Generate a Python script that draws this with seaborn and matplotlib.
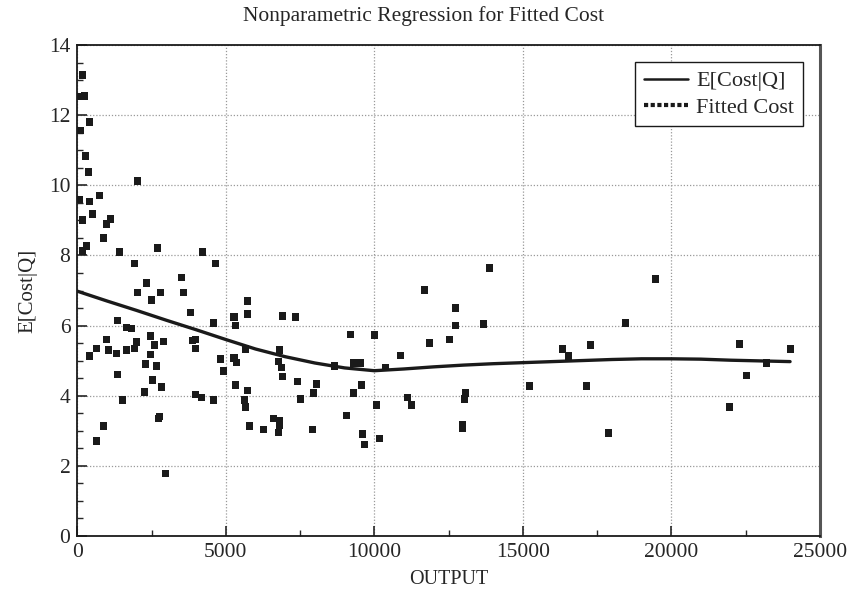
import numpy as np
import pandas as pd
import seaborn as sns
import matplotlib.pyplot as plt
from matplotlib.lines import Line2D
from matplotlib.ticker import MultipleLocator

# fitted cost scatter
output_q = [170, 90, 236, 404, 101, 269, 370, 2020, 80, 404, 741, 505, 168, 976, 1111,
            875, 303, 168, 1414, 2694, 4209, 1919, 4647, 3502, 2323, 2020, 2795, 3569,
            2492, 3805, 1347, 4579, 1650, 1818, 976, 2458, 1987, 2896, 2593, 3872, 3973,
            640, 1919, 3973, 404, 1044, 1313, 1650, 2458, 4815, 2290, 2660, 4916, 1347,
            2525, 2828, 2256, 3973, 4175, 1515, 4579, 2761, 2727,
            5276, 5320, 5724, 5724, 5657, 5276, 5354, 5320, 5724, 5623, 5657, 5791,
            640, 875, 2963,
            6903, 7353, 11684, 9193, 10000, 11852, 6801, 6768, 6869, 6903, 7407, 8653,
            9293, 9529, 10370, 10875, 8047, 7946, 9562, 9293, 7508, 11111, 11246, 10067,
            9057, 6600, 6801, 6801, 6263, 6768, 7913, 9596, 9663, 10169,
            13872, 19461, 12727, 12727, 13670, 18451, 12525, 16330, 17273, 16532, 15219,
            17138, 13064, 13030, 12963, 12963, 17896,
            22290, 24007, 23199, 22525, 21953]
fitted_cost = [13.15, 12.53, 12.55, 11.81, 11.56, 10.84, 10.38, 10.13, 9.59, 9.55, 9.71, 9.18, 9.01, 8.90, 9.04,
               8.50, 8.27, 8.13, 8.10, 8.21, 8.10, 7.78, 7.78, 7.38, 7.21, 6.95, 6.95, 6.95,
               6.73, 6.38, 6.15, 6.07, 5.95, 5.92, 5.61, 5.70, 5.53, 5.55, 5.44, 5.58, 5.61,
               5.35, 5.35, 5.35, 5.13, 5.30, 5.21, 5.30, 5.18, 5.04, 4.90, 4.84, 4.70, 4.61,
               4.44, 4.24, 4.10, 4.04, 3.95, 3.87, 3.87, 3.41, 3.35,
               6.24, 6.01, 6.70, 6.33, 5.33, 5.07, 4.95, 4.30, 4.15, 3.87, 3.67, 3.13,
               2.70, 3.13, 1.78,
               6.27, 6.24, 7.01, 5.75, 5.73, 5.50, 5.30, 4.98, 4.81, 4.55, 4.41, 4.84,
               4.93, 4.93, 4.81, 5.15, 4.33, 4.07, 4.30, 4.07, 3.90, 3.95, 3.73, 3.73,
               3.44, 3.35, 3.27, 3.16, 3.04, 2.95, 3.04, 2.90, 2.61, 2.78,
               7.64, 7.33, 6.50, 6.01, 6.04, 6.07, 5.61, 5.33, 5.44, 5.13, 4.27,
               4.27, 4.07, 3.90, 3.18, 3.07, 2.93,
               5.47, 5.33, 4.93, 4.58, 3.67]

# nonparametric regression curve E[Cost|Q]
curve_q = [0, 1000, 2000, 3000, 4000, 5000, 6000, 7000, 8000, 9000, 10000, 11000, 12000,
           13000, 14000, 15000, 16000, 17000, 18000, 19000, 20000, 21000, 22000, 23000, 24000]
curve_cost = [6.98, 6.70, 6.43, 6.15, 5.88, 5.60, 5.33, 5.11, 4.93, 4.79, 4.71, 4.76, 4.82,
              4.87, 4.91, 4.94, 4.97, 5.00, 5.03, 5.05, 5.05, 5.04, 5.01, 4.99, 4.97]

pts = pd.DataFrame({'OUTPUT': output_q, 'Cost': fitted_cost})
crv = pd.DataFrame({'OUTPUT': curve_q, 'E': curve_cost})

sns.set_style('white')
plt.rcParams['font.family'] = ['Liberation Serif', 'DejaVu Serif']

fig = plt.figure(figsize=(8.48, 5.97), dpi=100)
ax = fig.add_axes([0.0912, 0.1027, 0.8755, 0.8214])

sns.scatterplot(data=pts, x='OUTPUT', y='Cost', marker='s', s=28, color='#1a1a1a',
                edgecolor='none', ax=ax, legend=False, zorder=3)
sns.lineplot(data=crv, x='OUTPUT', y='E', color='#1a1a1a', linewidth=2.4, ax=ax,
             legend=False, zorder=4)

ax.set_xlim(0, 25000)
ax.set_ylim(0, 14)
ax.xaxis.set_major_locator(MultipleLocator(5000))
ax.xaxis.set_minor_locator(MultipleLocator(2500))
ax.yaxis.set_major_locator(MultipleLocator(2))
ax.yaxis.set_minor_locator(MultipleLocator(0.5))
ax.grid(True, which='major', color='#999999', linestyle=(0, (1, 1.5)), linewidth=0.9)
ax.tick_params(axis='both', which='major', direction='in', length=7, width=1.2,
               labelsize=15.5, top=False, right=False, bottom=True, left=True, pad=5)
ax.tick_params(axis='both', which='minor', direction='in', length=4, width=1,
               top=False, right=False, bottom=True, left=True)
for side in ['left', 'bottom', 'top']:
    ax.spines[side].set_color('#1a1a1a')
    ax.spines[side].set_linewidth(1.3)
ax.spines['right'].set_color('#555555')
ax.spines['right'].set_linewidth(2.2)

ax.set_xlabel('OUTPUT', fontsize=14.5, labelpad=6)
ax.set_ylabel('E[Cost|Q]', fontsize=15, labelpad=8)
fig.suptitle('Nonparametric Regression for Fitted Cost', fontsize=15.5, y=0.99)

handles = [Line2D([], [], color='#1a1a1a', linewidth=1.8),
           Line2D([], [], color='#1a1a1a', linewidth=3, linestyle=(0, (1, 0.6)))]
leg = ax.legend(handles, ['E[Cost|Q]', 'Fitted Cost'], loc='upper right',
                bbox_to_anchor=(0.9775, 0.966), borderaxespad=0, fontsize=16,
                frameon=True, fancybox=False, handlelength=2.0, handletextpad=0.35,
                labelspacing=0.25, borderpad=0.4)
leg.get_frame().set_edgecolor('#1a1a1a')
leg.get_frame().set_linewidth(1.0)
leg.get_frame().set_alpha(1)

fig.savefig('out.png', dpi=100)
